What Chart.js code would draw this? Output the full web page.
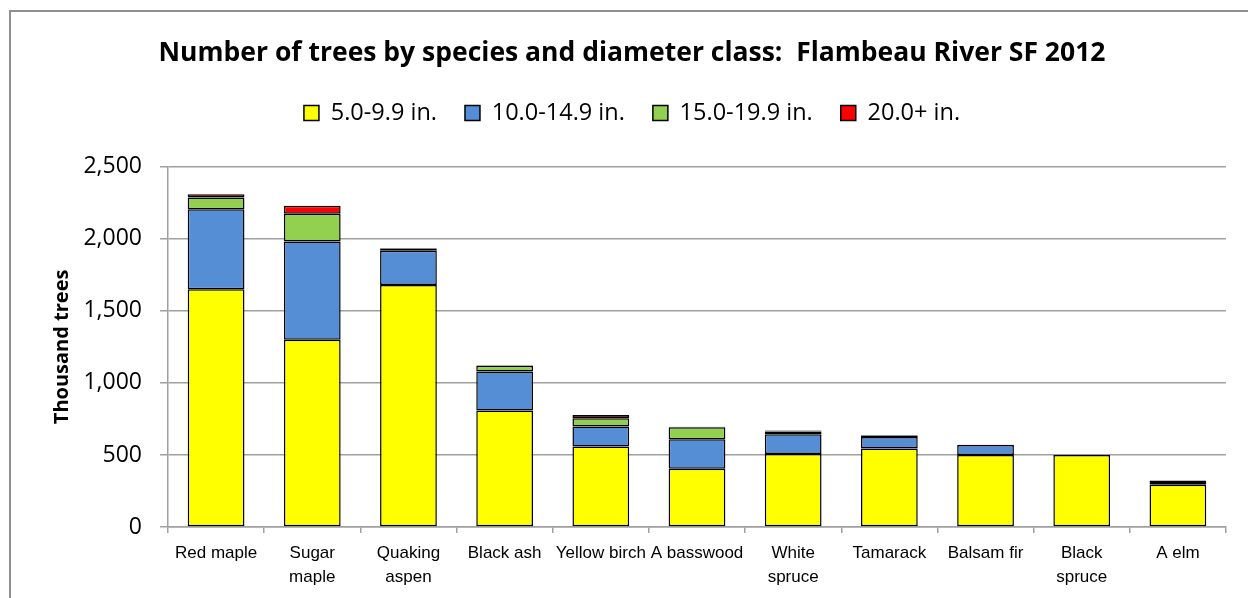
<!DOCTYPE html>
<html>
<head>
<meta charset="utf-8">
<script src="https://cdn.jsdelivr.net/npm/chart.js@4.4.1/dist/chart.umd.min.js"></script>
<style>
    html, body { margin: 0; padding: 0; background: #fff; overflow: hidden; }
    #wrap { position: relative; width: 1248px; height: 598px; }
    #frame { position: absolute; left: 9px; top: 10px; width: 1400px; height: 800px; border: 2px solid #8f8f8f; box-sizing: border-box; }
    canvas { position: absolute; left: 0; top: 0; }
</style>
</head>
<body>
<div id="wrap">
    <div id="frame"></div>
    <canvas id="treeChart" width="1248" height="598"></canvas>
</div>
<script>
// species along the x axis
const species = ['Red maple', ['Sugar', 'maple'], ['Quaking', 'aspen'], 'Black ash', 'Yellow birch',
    'A basswood', ['White', 'spruce'], 'Tamarack', 'Balsam fir', ['Black', 'spruce'], 'A elm'];

// thousand trees per diameter class
const dia5to10 = [1650, 1299, 1680, 808, 558, 405, 507, 544, 500, 500, 294];
const dia10to15 = [556, 683, 238, 271, 139, 204, 137, 81, 69, 2, 18];
const dia15to20 = [81, 192, 15, 40, 58, 83, 18, 10, 2, 0, 8];
const dia20plus = [22, 56, 3, 3, 22, 3, 7, 4, 0, 0, 2];

const yTicks = [0, 500, 1000, 1500, 2000, 2500];

const ctx = document.getElementById('treeChart');

const seg = (label, data, color) => ({
    label: label,
    data: data,
    backgroundColor: color,
    borderColor: '#000',
    borderWidth: 1.5,
    borderSkipped: false,
    categoryPercentage: 1.0,
    barPercentage: 0.59
});

new Chart(ctx, {
    type: 'bar',
    data: {
        labels: species,
        datasets: [
            seg('5.0-9.9 in.', dia5to10, '#ffff00'),
            seg('10.0-14.9 in.', dia10to15, '#558ed5'),
            seg('15.0-19.9 in.', dia15to20, '#92d050'),
            seg('20.0+ in.', dia20plus, '#ff0000')
        ]
    },
    options: {
        responsive: false,
        animation: false,
        layout: { padding: { left: 16, right: 0, top: 0, bottom: 0 } },
        plugins: {
            title: {
                display: true,
                text: 'Number of trees by species and diameter class:  Flambeau River SF 2012',
                color: '#000',
                font: { family: "'Open Sans', sans-serif", size: 26.5, weight: 'bold' },
                padding: { top: 38, bottom: 3.5 }
            },
            // empty block that keeps the gap between legend and plot
            subtitle: {
                display: true,
                text: '',
                weight: 500,
                font: { size: 32, lineHeight: 1 },
                padding: 0
            },
            legend: {
                display: true,
                labels: {
                    color: '#000',
                    font: { family: "'Open Sans', sans-serif", size: 23.5 },
                    boxWidth: 15,
                    boxHeight: 15,
                    padding: 28
                }
            },
            tooltip: { enabled: false }
        },
        scales: {
            x: {
                stacked: true,
                grid: { display: true, drawOnChartArea: false, drawTicks: true, tickLength: 6, color: '#a0a0a0', lineWidth: 1.5 },
                border: { color: '#a0a0a0', width: 1.5 },
                ticks: {
                    color: '#000',
                    font: { family: "'Liberation Sans', Arial, sans-serif", size: 17, lineHeight: 1.42 },
                    padding: 8,
                    maxRotation: 0,
                    autoSkip: false
                },
                afterFit: (scale) => { scale.height = 71; }
            },
            y: {
                stacked: true,
                min: 0,
                max: 2500,
                afterBuildTicks: (scale) => { scale.ticks = yTicks.map(v => ({ value: v })); },
                grid: { color: '#a0a0a0', lineWidth: 1.5, tickLength: 8 },
                border: { color: '#a0a0a0', width: 1.5 },
                ticks: {
                    color: '#000',
                    font: { family: "'Open Sans', sans-serif", size: 23 },
                    padding: 18,
                    callback: (v) => v.toLocaleString('en-US')
                },
                title: {
                    display: true,
                    text: 'Thousand trees',
                    color: '#000',
                    font: { family: "'Open Sans', sans-serif", size: 20, weight: 'bold' },
                    padding: { top: 34, bottom: 0 }
                },
                afterFit: (scale) => { scale.width = 152; }
            },
            // blank right-hand strip so the plot ends where the original does
            spacer: {
                type: 'linear',
                position: 'right',
                grid: { display: false },
                border: { display: false },
                ticks: { display: false },
                afterFit: (scale) => { scale.width = 22; }
            }
        }
    }
});
</script>
</body>
</html>
